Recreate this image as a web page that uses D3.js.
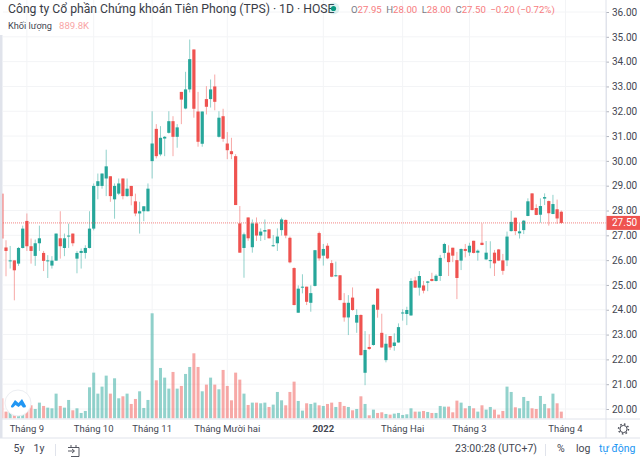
<!DOCTYPE html>
<html>
<head>
<meta charset="utf-8">
<script src="https://cdn.jsdelivr.net/npm/d3@7"></script>
<style>
  html, body { margin: 0; padding: 0; background: #fff; overflow: hidden; }
  svg { display: block; font-family: Roboto, sans-serif; }
  text { fill: #434651; }
</style>
</head>
<body>
<svg id="chart" width="640" height="459"></svg>
<script>
// candles, oldest first
const opens = [28.68,26.51,25.97,25.99,25.86,26.49,27.58,26.56,26.17,26.68,26.29,25.97,25.78,25.98,26.88,26.49,26.96,27.07,26.06,26.29,26.29,26.49,27.27,28.99,28.99,29.29,29.38,28.45,28.68,29.29,28.58,28.99,28.37,27.88,27.97,27.97,
  29.99,31.29,30.26,30.90,31.13,31.60,30.97,32.78,32.11,32.88,34.49,31.99,30.69,32.49,32.49,33.00,30.97,31.80,30.70,30.39,30.19,
  27.48,26.49,27.72,26.52,27.48,26.99,27.15,27.24,26.57,26.68,27.21,27.62,26.90,25.68,23.88,24.90,24.93,24.28,24.96,27.09,26.18,26.58,25.88,25.36,25.39,24.28,23.69,24.49,23.48,23.79,21.46,22.50,22.58,24.85,23.07,21.97,22.94,22.54,22.68,
  23.88,23.83,23.77,25.18,24.89,24.98,25.09,25.24,25.16,25.36,26.29,26.30,26.50,26.00,25.98,26.45,26.31,26.78,26.30,26.70,26.03,25.99,26.30,26.43,25.99,25.99,27.17,27.71,27.08,27.21,27.78,28.69,28.10,27.83,28.48,28.38,27.86,28.05,27.95];
const highs = [28.68,26.80,26.57,25.99,26.53,27.39,27.88,26.87,26.83,27.39,26.37,26.20,26.16,27.07,27.97,27.07,27.47,27.07,26.37,26.47,26.60,27.97,29.09,29.49,29.49,30.45,29.38,29.09,29.29,29.29,29.29,28.99,28.68,28.35,28.17,29.09,
  32.00,31.48,31.40,31.00,32.00,31.80,31.48,32.78,33.59,34.89,34.49,32.78,31.99,33.01,33.28,33.48,32.00,32.10,31.16,30.93,30.27,
  28.18,27.11,27.72,27.64,27.72,27.28,27.64,27.24,27.01,27.28,27.71,27.64,26.95,25.71,24.98,25.43,24.93,24.98,26.41,27.15,26.65,26.68,26.00,25.94,25.40,24.67,24.59,24.90,24.02,23.81,23.14,23.01,24.22,24.86,23.84,23.01,22.94,23.05,23.45,
  24.02,24.12,25.27,25.33,25.56,25.16,25.16,25.49,25.43,26.21,26.70,26.60,26.50,26.33,26.47,26.65,26.70,26.78,26.43,27.48,26.77,26.76,26.41,26.45,26.25,27.15,27.98,27.71,27.48,27.62,28.49,28.69,28.25,28.49,28.69,28.40,28.63,28.44,28.00];
const lows = [26.47,25.35,25.66,24.38,25.77,26.47,26.37,25.86,25.77,26.37,25.56,25.28,25.66,25.97,26.06,26.16,26.49,26.56,25.47,25.66,26.06,26.47,27.20,28.45,28.88,28.58,28.35,27.67,28.62,28.45,28.55,28.21,27.77,27.07,27.57,27.96,
  29.29,30.10,30.19,30.19,31.10,30.19,30.53,31.48,32.08,32.76,31.74,30.57,30.57,31.87,32.15,32.04,30.94,30.77,30.07,30.07,28.22,
  26.30,25.29,26.78,26.30,26.77,26.77,26.81,26.87,26.54,26.37,26.99,26.88,25.87,24.18,23.88,24.66,24.19,23.92,24.94,25.98,25.78,26.04,25.31,25.33,24.38,23.52,22.98,23.96,23.07,22.16,20.96,22.38,22.55,23.68,22.47,21.88,22.38,22.35,22.67,
  23.56,23.38,23.76,24.89,24.57,24.66,24.75,25.14,25.14,25.16,26.07,25.36,25.92,24.43,25.60,26.11,26.17,26.27,25.98,26.60,26.00,25.67,25.36,25.96,25.41,25.76,27.15,27.01,26.87,27.05,27.77,28.00,27.81,27.51,28.22,27.39,27.85,27.46,27.46];
const closes = [26.87,26.37,25.99,25.59,26.49,27.27,26.56,26.37,26.68,26.88,25.97,25.99,25.98,27.07,26.56,26.88,26.99,26.68,26.29,26.37,26.49,27.27,28.99,29.18,29.49,29.78,28.58,28.99,29.09,28.58,28.88,28.58,27.88,27.97,28.17,28.88,
  30.70,30.19,30.93,30.97,31.60,30.97,31.35,32.47,32.88,34.10,32.10,30.77,31.99,32.18,32.88,32.38,31.74,30.89,30.43,30.27,28.22,
  26.30,27.04,26.88,27.48,26.99,27.15,27.21,26.88,26.60,26.95,27.64,26.99,25.91,24.19,24.85,24.93,24.32,24.67,26.40,26.07,26.45,26.07,25.33,25.39,24.39,23.69,24.28,23.99,23.79,22.17,22.38,22.42,24.20,24.00,22.48,22.63,22.48,22.68,23.30,
  23.89,23.99,25.16,24.89,25.36,24.77,25.14,25.16,25.37,26.09,26.65,25.92,26.18,25.28,26.45,26.37,26.58,26.29,26.38,26.61,26.30,26.00,25.87,25.98,25.57,26.95,27.54,27.17,27.16,27.59,28.37,28.02,27.82,28.18,28.54,27.89,28.26,27.68,27.50];
// volume in thousands of shares
const volumes = [2670,890,1335,1113,668,3427,1335,1736,1246,2092,1647,1424,1335,3293,1647,1424,2448,1068,1335,712,979,4139,6097,3293,4228,5696,3293,5340,2670,2937,3293,1914,2581,3605,1380,2448,
  14018,5073,6720,5429,3961,6186,3961,4317,5919,6853,8678,6853,3605,4495,5429,4495,3872,6453,4317,2403,6097,5162,3293,1780,2092,2092,2003,2092,1513,1825,3516,2403,1736,3516,4895,2314,1024,2003,1914,2092,1736,
  1647,1914,2092,1513,2181,1647,1513,1068,1246,2937,1914,401,1157,712,801,579,490,623,712,445,534,1335,890,890,979,846,712,712,1647,1558,1558,801,2359,2092,1335,1647,1335,890,1736,1157,1513,1157,490,979,4228,3516,1469,1335,2848,2314,1335,1246,2982,1914,1335,3293,2003,890];

const priceTicks = [20,21,22,23,24,25,26,27,28,29,30,31,32,33,34,35,36];
const monthLabels = ['Tháng 9','Tháng 10','Tháng 11','Tháng Mười hai','2022','Tháng Hai','Tháng 3','Tháng 4'];
const monthBars = [6,22,36,54,77,96,112,135];
const lastPrice = 27.5;
const legendValues = [['O','27.95'],['H','28.00'],['L','28.00'],['C','27.50']];

const UP = '#26a69a';
const DOWN = '#ef5350';
const GRID = '#f3f4f6';
const BORDER = '#e0e3eb';
const paneRight = 606;
const paneBottom = 419;

const svg = d3.select('#chart');
const x = d3.scaleLinear().domain([0, 134]).range([1.83, 561.3]);
const y = d3.scaleLinear().domain([20, 36]).range([409, 12]);
const yVol = d3.scaleLinear().domain([0, d3.max(volumes)]).range([418.3, 313.3]);
const bars = d3.range(opens.length);
const colour = (i) => (closes[i] >= opens[i] ? UP : DOWN);

svg.append('defs').append('clipPath').attr('id', 'pane')
  .append('rect').attr('x', 2.6).attr('y', 0).attr('width', paneRight - 2.6).attr('height', paneBottom);

// left edge strip
svg.append('rect').attr('x', 0).attr('y', 35).attr('width', 2.5).attr('height', 403).attr('fill', '#e0e3eb');

// grid
svg.append('g').selectAll('line').data(priceTicks).join('line')
  .attr('x1', 3).attr('x2', paneRight)
  .attr('y1', (d) => y(d)).attr('y2', (d) => y(d))
  .attr('stroke', GRID);
svg.append('g').selectAll('line').data(monthBars).join('line')
  .attr('x1', (d) => x(d)).attr('x2', (d) => x(d))
  .attr('y1', 0).attr('y2', paneBottom)
  .attr('stroke', GRID);

const plot = svg.append('g').attr('clip-path', 'url(#pane)');

// volume
plot.append('g').selectAll('rect').data(bars).join('rect')
  .attr('x', (i) => x(i) - 1.5)
  .attr('width', 3)
  .attr('y', (i) => yVol(volumes[i]))
  .attr('height', (i) => yVol(0) - yVol(volumes[i]))
  .attr('fill', colour)
  .attr('opacity', 0.5);

// wicks
plot.append('g').selectAll('line').data(bars).join('line')
  .attr('x1', (i) => x(i)).attr('x2', (i) => x(i))
  .attr('y1', (i) => y(highs[i])).attr('y2', (i) => y(lows[i]))
  .attr('stroke', colour)
  .attr('stroke-opacity', 0.5);

// bodies
plot.append('g').selectAll('rect').data(bars).join('rect')
  .attr('x', (i) => x(i) - 1.6)
  .attr('width', 3.2)
  .attr('y', (i) => y(Math.max(opens[i], closes[i])))
  .attr('height', (i) => Math.max(1, Math.abs(y(opens[i]) - y(closes[i]))))
  .attr('fill', colour);

// last price line
svg.append('line')
  .attr('x1', 3).attr('x2', paneRight)
  .attr('y1', y(lastPrice)).attr('y2', y(lastPrice))
  .attr('stroke', DOWN).attr('stroke-opacity', 0.7)
  .attr('stroke-dasharray', '1 1');

// price axis
const priceAxis = svg.append('g')
  .attr('transform', `translate(${paneRight},0)`)
  .call(d3.axisRight(y).tickValues(priceTicks).tickFormat(d3.format('.2f')).tickSize(3).tickPadding(3));
priceAxis.select('.domain').attr('stroke', BORDER);
priceAxis.selectAll('line').attr('stroke', '#b2b5be');
priceAxis.selectAll('text').attr('font-size', 10).attr('font-family', 'Roboto, sans-serif').attr('fill', '#434651');

svg.append('rect').attr('x', paneRight).attr('y', y(lastPrice) - 7).attr('width', 34).attr('height', 14).attr('fill', DOWN);
svg.append('text').attr('x', 612).attr('y', y(lastPrice)).attr('dy', '0.35em')
  .attr('font-size', 10).style('fill', '#fff').text(d3.format('.2f')(lastPrice));

// time axis
svg.append('line').attr('x1', 0).attr('x2', 640).attr('y1', paneBottom).attr('y2', paneBottom).attr('stroke', BORDER);
svg.append('line').attr('x1', 0).attr('x2', 640).attr('y1', 438).attr('y2', 438).attr('stroke', BORDER);
svg.append('line').attr('x1', paneRight).attr('x2', paneRight).attr('y1', 0).attr('y2', 438).attr('stroke', BORDER);
svg.append('g').selectAll('text').data(monthBars).join('text')
  .attr('x', (d) => x(d)).attr('y', 429).attr('dy', '0.35em')
  .attr('text-anchor', 'middle').attr('font-size', 9.5)
  .attr('font-weight', (d, i) => (monthLabels[i] === '2022' ? 700 : 400))
  .text((d, i) => monthLabels[i]);

// header
svg.append('text').attr('x', 8).attr('y', 9).attr('dy', '0.35em').attr('font-size', 12.2)
  .style('fill', '#3a3d47').text('Công ty Cổ phần Chứng khoán Tiên Phong (TPS) · 1D · HOSE');
svg.append('circle').attr('cx', 333.5).attr('cy', 8.5).attr('r', 6).attr('fill', UP).attr('opacity', 0.15);
svg.append('circle').attr('cx', 333.5).attr('cy', 8.5).attr('r', 2.6).attr('fill', '#089981');

const legend = svg.append('text').attr('x', 351).attr('y', 9.5).attr('dy', '0.35em').attr('font-size', 9.6);
legendValues.forEach(([k, v]) => {
  legend.append('tspan').style('fill', '#787b86').attr('dx', k === 'O' ? 0 : 4.5).text(k);
  legend.append('tspan').style('fill', '#f77c80').text(v);
});
legend.append('tspan').style('fill', '#f77c80').attr('dx', 4.5).text('−0.20 (−0.72%)');

svg.append('text').attr('x', 8).attr('y', 26).attr('dy', '0.35em').attr('font-size', 9.2)
  .style('fill', '#434651').text('Khối lượng');
svg.append('text').attr('x', 59).attr('y', 26).attr('dy', '0.35em').attr('font-size', 9.6)
  .style('fill', '#f9a5a5').text('889.8K');

// logo badge
svg.append('circle').attr('cx', 18).attr('cy', 403).attr('r', 13).attr('fill', '#fff').attr('stroke', '#eceef2');
svg.append('path').attr('d', 'M11 406 L15 400 L18.5 403 L22 399 L26 406 Q26 408 23 407.5 L21 405 L18.5 407 L15.5 405 L13 407.5 Q10.5 408 11 406 Z')
  .attr('fill', '#2196f3');

// bottom toolbar
const toolbar = [['5y', 14], ['1y', 33]];
svg.append('g').selectAll('text').data(toolbar).join('text')
  .attr('x', (d) => d[0] === '5y' ? 19 : 39).attr('y', 452).attr('text-anchor', 'middle')
  .attr('font-size', 10.5).text((d) => d[0]);
svg.append('line').attr('x1', 55.5).attr('x2', 55.5).attr('y1', 444).attr('y2', 456).attr('stroke', BORDER);
svg.append('path')
  .attr('d', 'M68 447.5 H79 V456.5 H71 M68 451 H74 M72 449 L74.5 451 L72 453 M71 445 V447.5 M76 445 V447.5')
  .attr('fill', 'none').attr('stroke', '#434651').attr('stroke-width', 0.9);
svg.append('text').attr('x', 455).attr('y', 452).attr('font-size', 10.5).attr('text-anchor', 'start')
  .attr('dx', 0).text('23:00:28 (UTC+7)');
svg.append('line').attr('x1', 545.5).attr('x2', 545.5).attr('y1', 444).attr('y2', 456).attr('stroke', BORDER);
svg.append('text').attr('x', 557).attr('y', 452).attr('font-size', 10.5).text('%');
svg.append('text').attr('x', 576).attr('y', 452).attr('font-size', 10.5).text('log');
svg.append('text').attr('x', 599).attr('y', 452).attr('font-size', 10.5).style('fill', '#2196f3').text('tự động');

// settings gear
svg.append('circle').attr('cx', 623.5).attr('cy', 429).attr('r', 3.6).attr('fill', 'none').attr('stroke', '#434651').attr('stroke-width', 1);
svg.append('circle').attr('cx', 623.5).attr('cy', 429).attr('r', 5).attr('fill', 'none').attr('stroke', '#434651').attr('stroke-width', 1.4).attr('stroke-dasharray', '1.6 2.3');
</script>
</body>
</html>
